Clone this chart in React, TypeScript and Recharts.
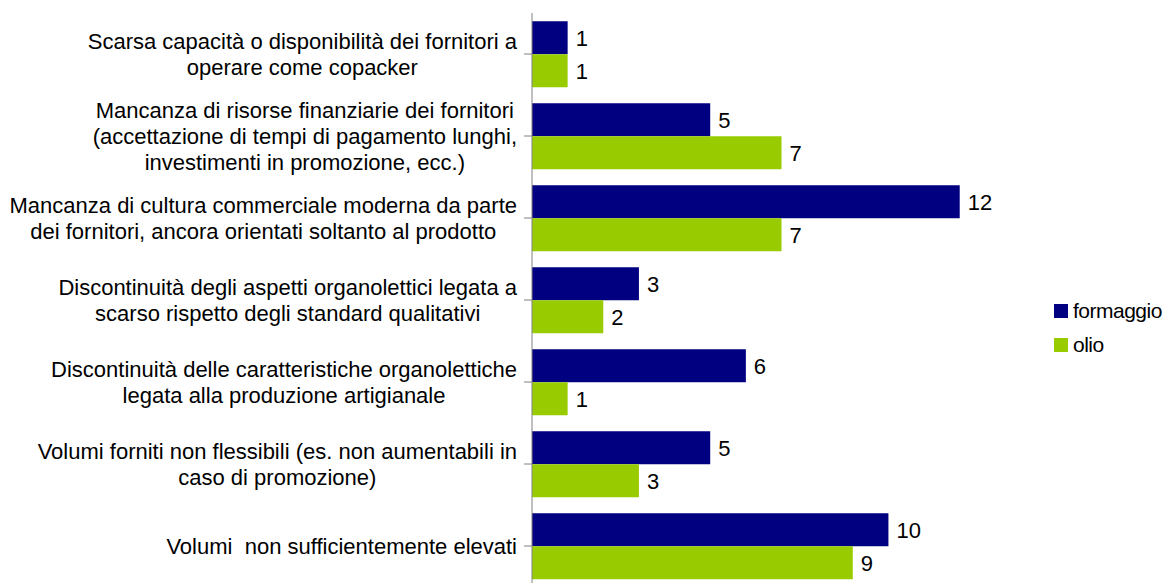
import { BarChart, Bar, XAxis, YAxis, LabelList } from "recharts"

const categories = [
  "Scarsa capacità o disponibilità dei fornitori a\noperare come copacker",
  "Mancanza di risorse finanziarie dei fornitori\n(accettazione di tempi di pagamento lunghi,\ninvestimenti in promozione, ecc.)",
  "Mancanza di cultura commerciale moderna da parte\ndei fornitori, ancora orientati soltanto al prodotto",
  "Discontinuità degli aspetti organolettici legata a\nscarso rispetto degli standard qualitativi",
  "Discontinuità delle caratteristiche organolettiche\nlegata alla produzione artigianale",
  "Volumi forniti non flessibili (es. non aumentabili in\ncaso di promozione)",
  "Volumi  non sufficientemente elevati",
]

const formaggio = [1, 5, 12, 3, 6, 5, 10]
const olio = [1, 7, 7, 2, 1, 3, 9]

const seriesNames = ["formaggio", "olio"]
const colors = ["#000080", "#99CC00"]

const data = categories.map((c, i) => ({ name: c, formaggio: formaggio[i], olio: olio[i] }))

const FONT = "'Liberation Sans', Arial, sans-serif"
const FONT_SIZE = 22
const LINE_H = 26

let ctx: CanvasRenderingContext2D | null = null
function textWidth(s: string) {
  if (!ctx) ctx = document.createElement("canvas").getContext("2d")
  if (!ctx) return s.length * 10
  ctx.font = `${FONT_SIZE}px ${FONT}`
  return ctx.measureText(s).width
}

function CategoryTick(props: any) {
  const { x, y, payload } = props
  const lines: string[] = String(payload.value).split("\n")
  const maxW = Math.max(...lines.map(textWidth))
  const right = x - 5
  const cx = right - maxW / 2
  return (
    <g>
      {lines.map((line, i) => (
        <text
          key={i}
          x={cx}
          y={y + (i - (lines.length - 1) / 2) * LINE_H}
          textAnchor="middle"
          dominantBaseline="central"
          fontFamily={FONT}
          fontSize={FONT_SIZE}
          fill="#000"
          style={{ whiteSpace: "pre" }}
        >
          {line}
        </text>
      ))}
    </g>
  )
}

export default function App() {
  return (
    <div style={{ position: "relative", width: 1163, height: 583 }}>
      <style>{"body{overflow:hidden}"}</style>
      <BarChart
        width={1163}
        height={583}
        data={data}
        layout="vertical"
        margin={{ top: 5, right: 140, bottom: 4, left: 0 }}
        barCategoryGap="10%"
        barGap={0}
      >
        <XAxis type="number" domain={[0, 14]} hide />
        <YAxis
          type="category"
          dataKey="name"
          width={524}
          tickSize={8}
          axisLine={{ stroke: "#808080", strokeWidth: 1 }}
          tickLine={{ stroke: "#808080" }}
          tick={<CategoryTick />}
          interval={0}
        />
        {seriesNames.map((s, i) => (
          <Bar key={s} dataKey={s} fill={colors[i]} isAnimationActive={false}>
            <LabelList
              dataKey={s}
              position="right"
              offset={8}
              fill="#000"
              fontFamily={FONT}
              fontSize={FONT_SIZE}
            />
          </Bar>
        ))}
      </BarChart>
      <div
        style={{
          position: "absolute",
          left: 1046,
          top: 286,
          width: 117,
          whiteSpace: "nowrap",
          fontFamily: FONT,
          fontSize: 21,
          letterSpacing: -0.5,
          color: "#000",
        }}
      >
        {seriesNames.map((s, i) => (
          <div key={s} style={{ display: "flex", alignItems: "center", height: 34 }}>
            <span style={{ width: 14, height: 14, background: colors[i], marginRight: 5, display: "inline-block", flexShrink: 0 }} />
            {s}
          </div>
        ))}
      </div>
    </div>
  )
}
